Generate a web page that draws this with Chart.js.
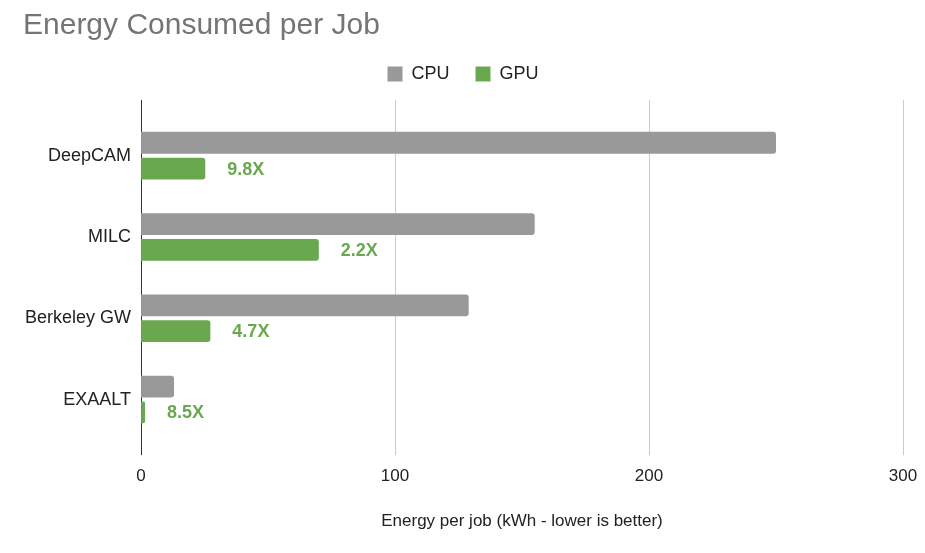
<!DOCTYPE html>
<html>
<head>
<meta charset="utf-8">
<script src="https://cdn.jsdelivr.net/npm/chart.js@4"></script>
<style>
  html, body { margin: 0; padding: 0; background: #fff; }
  #wrap { width: 925px; height: 553px; }
</style>
</head>
<body>
<div id="wrap"><canvas id="energy-chart"></canvas></div>
<script>
// Data
const apps = ['DeepCAM', 'MILC', 'Berkeley GW', 'EXAALT'];
const cpuEnergy = [250, 155, 129, 13];
const gpuEnergy = [25.3, 70, 27.3, 1.6];
const speedups = ['9.8X', '2.2X', '4.7X', '8.5X'];
const xTicks = [0, 100, 200, 300];

const FONT = '"Liberation Sans", Arial, sans-serif';

// Gridlines and zero line run a little past the bars, like the original
const gridPlugin = {
    id: 'longGrid',
    beforeDatasetsDraw(chart) {
        const ctx = chart.ctx;
        const x = chart.scales.x;
        const top = chart.chartArea.top - 15;
        const bottom = chart.chartArea.bottom + 15;
        ctx.save();
        xTicks.forEach(v => {
            const px = Math.round(x.getPixelForValue(v)) + 0.5;
            ctx.strokeStyle = v === 0 ? '#333333' : '#cccccc';
            ctx.lineWidth = 1;
            ctx.beginPath();
            ctx.moveTo(px, top);
            ctx.lineTo(px, bottom);
            ctx.stroke();
        });
        ctx.restore();
    }
};

// Speedup labels to the right of each GPU bar
const labelPlugin = {
    id: 'speedupLabels',
    afterDatasetsDraw(chart) {
        const ctx = chart.ctx;
        const meta = chart.getDatasetMeta(1);
        ctx.save();
        ctx.fillStyle = '#6aa84f';
        ctx.font = 'bold 18px ' + FONT;
        ctx.textBaseline = 'middle';
        meta.data.forEach((bar, i) => {
            ctx.fillText(speedups[i], bar.x + 22, bar.y + 1);
        });
        ctx.restore();
    }
};

// a bit more room under the legend
const legendGap = {
    id: 'legendGap',
    beforeInit(chart) {
        const fit = chart.legend.fit;
        chart.legend.fit = function () {
            fit.bind(chart.legend)();
            this.height += 22;
        };
    }
};

const config = {
    type: 'bar',
    data: {
        labels: apps,
        datasets: [{
            label: 'CPU',
            data: cpuEnergy,
            backgroundColor: '#999999',
            borderRadius: 3,
            borderSkipped: 'start'
        }, {
            label: 'GPU',
            data: gpuEnergy,
            backgroundColor: '#6aa84f',
            borderRadius: 3,
            borderSkipped: 'start'
        }]
    },
    options: {
        indexAxis: 'y',
        responsive: true,
        maintainAspectRatio: false,
        animation: false,
        categoryPercentage: 0.634,
        barPercentage: 0.846,
        layout: { padding: { left: 23, right: 22, top: 0, bottom: 17 } },
        plugins: {
            title: {
                display: true,
                text: 'Energy Consumed per Job',
                align: 'start',
                color: '#757575',
                font: { family: FONT, size: 30, weight: 'normal', lineHeight: 0.9 },
                padding: { top: 12, bottom: 0 }
            },
            legend: {
                display: true,
                position: 'top',
                labels: {
                    boxWidth: 15,
                    boxHeight: 15,
                    padding: 26,
                    color: '#222222',
                    font: { family: FONT, size: 18 }
                }
            },
            tooltip: { enabled: false }
        },
        scales: {
            x: {
                min: 0,
                max: 300,
                afterBuildTicks: axis => { axis.ticks = xTicks.map(v => ({ value: v })); },
                afterFit: axis => { axis.paddingRight = 0; },
                grid: { display: false },
                border: { display: false },
                ticks: {
                    color: '#222222',
                    padding: 18,
                    font: { family: FONT, size: 17 }
                },
                title: {
                    display: true,
                    text: 'Energy per job (kWh - lower is better)',
                    color: '#222222',
                    padding: { top: 7 },
                    font: { family: FONT, size: 17 }
                }
            },
            y: {
                grid: { display: false },
                border: { display: false },
                ticks: {
                    color: '#222222',
                    padding: 2,
                    font: { family: FONT, size: 18 }
                }
            }
        }
    },
    plugins: [gridPlugin, labelPlugin, legendGap]
};

const energyChart = new Chart(document.getElementById('energy-chart'), config);
</script>
</body>
</html>
